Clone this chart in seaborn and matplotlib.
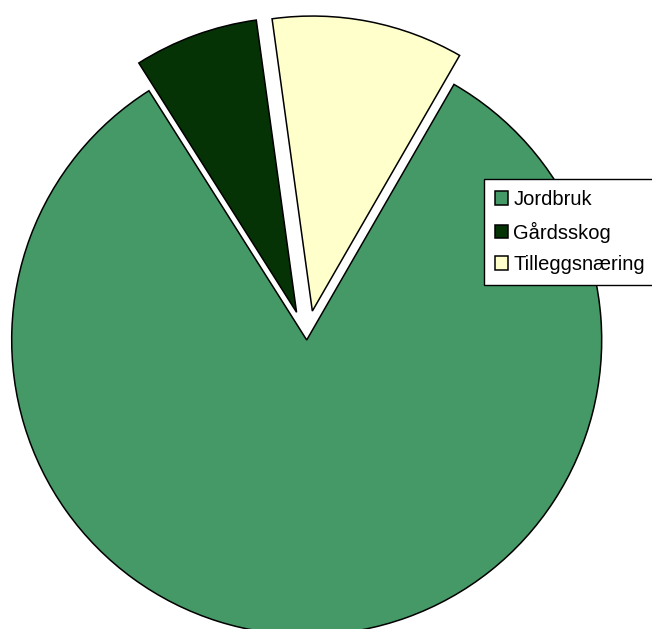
import matplotlib
matplotlib.use("Agg")
import matplotlib.pyplot as plt
import seaborn as sns
import numpy as np

# DATA
kategorier = ['Jordbruk', 'Gårdsskog', 'Tilleggsnæring']
andel = [82.7, 6.8, 10.5]
farger = ['#459966', '#063306', '#FFFFCC']
utskilt = [0, 0.1, 0.1]

sns.set_theme(style="white")
plt.rcParams['font.family'] = ['Liberation Sans', 'DejaVu Sans']

W, H = 652, 629
fig = plt.figure(figsize=(W / 100, H / 100), dpi=100)
ax = fig.add_axes([0, 0, 1, 1])

wedges, _ = ax.pie(andel, colors=farger, explode=utskilt, startangle=60.05,
                   counterclock=False, radius=1,
                   wedgeprops=dict(edgecolor='black', linewidth=1.1))

# pie centre at (306.7, 340) px from top-left, radius 295 px
r_px = 295
cx, cy = 306.7, H - 340
ax.set_xlim(-cx / r_px, (W - cx) / r_px)
ax.set_ylim(-cy / r_px, (H - cy) / r_px)
ax.set_aspect('auto')
ax.axis('off')

leg = fig.legend(wedges, kategorier, loc='upper left',
                 bbox_to_anchor=(484 / W, (H - 179) / H), borderaxespad=0,
                 fontsize=14.5, frameon=True, fancybox=False, shadow=False,
                 edgecolor='black', framealpha=1, handlelength=0.65,
                 handleheight=0.65, handletextpad=0.25, labelspacing=0.62,
                 borderpad=0.55, labelcolor='black')
leg.get_frame().set_linewidth(1.0)

fig.savefig('out.png', dpi=100)
